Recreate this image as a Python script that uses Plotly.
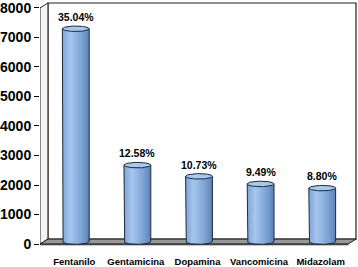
import numpy as np
import plotly.graph_objects as go

# ---- data ----
categories = ["Fentanilo", "Gentamicina", "Dopamina", "Vancomicina", "Midazolam"]
values = [7210, 2590, 2210, 1953, 1811]
pct_labels = ["35.04%", "12.58%", "10.73%", "9.49%", "8.80%"]
y_ticks = [0, 1000, 2000, 3000, 4000, 5000, 6000, 7000, 8000]

# ---- geometry (pixel scale helpers) ----
PXX = 62.0      # px per category unit
PXY = 0.03      # px per value unit
X_RANGE = [(38 - 70) / PXX, (357 - 70) / PXX]
Y_RANGE = [-2 / PXY, 246 / PXY]
DDX = 8 / PXX            # depth offset x (full)
DDY = 5 / PXY            # depth offset y (full)
X_BACK_RIGHT = (356 - 70) / PXX
X_FRONT_RIGHT = X_BACK_RIGHT - DDX
X0 = X_RANGE[0]
YMAX = 8000

A = 13.5 / PXX   # cylinder half width
B = 2.8 / PXY    # ellipse half height

fig = go.Figure()

# ---- frame ----
shapes = []
line_c = "#202020"
# back wall
shapes.append(dict(type="path", xref="x", yref="y", layer="below",
                   path=f"M{X0+DDX},{DDY} L{X0+DDX},{YMAX+DDY} L{X_BACK_RIGHT},{YMAX+DDY} L{X_BACK_RIGHT},{DDY} Z",
                   fillcolor="white", line=dict(color=line_c, width=1.2)))
# left wall
shapes.append(dict(type="path", xref="x", yref="y", layer="below",
                   path=f"M{X0},0 L{X0},{YMAX} L{X0+DDX},{YMAX+DDY} L{X0+DDX},{DDY} Z",
                   fillcolor="#f4f4f4", line=dict(color=line_c, width=1)))
# floor
shapes.append(dict(type="path", xref="x", yref="y", layer="below",
                   path=f"M{X0},0 L{X_FRONT_RIGHT},0 L{X_BACK_RIGHT},{DDY} L{X0+DDX},{DDY} Z",
                   fillcolor="#999999", line=dict(color=line_c, width=1)))
# floor slab front
shapes.append(dict(type="path", xref="x", yref="y", layer="below",
                   path=f"M{X0},0 L{X_FRONT_RIGHT},0 L{X_FRONT_RIGHT},{-1/PXY} L{X0},{-1/PXY} Z",
                   fillcolor="#606060", line=dict(color=line_c, width=0.5)))

# ---- cylinders ----
t_front = np.linspace(np.pi, 2 * np.pi, 40)
t_full = np.linspace(0, 2 * np.pi, 80)
for i, v in enumerate(values):
    cx = i + DDX / 2
    yb = DDY / 2
    yt = v + DDY / 2
    # body
    bx = [cx - A] + list(cx + A * np.cos(t_front)) + [cx + A, cx - A]
    by = [yt] + list(yb + B * np.sin(t_front)) + [yt, yt]
    fig.add_trace(go.Scatter(x=bx, y=by, mode="lines", fill="toself",
                             line=dict(color="#1e2a3a", width=1),
                             fillgradient=dict(type="horizontal",
                                               colorscale=[[0, "#7ea6d8"], [0.3, "#a6c6ee"], [0.75, "#7a9fd2"], [1, "#5b80b6"]]),
                             hoverinfo="skip", showlegend=False))
    # top ellipse
    fig.add_trace(go.Scatter(x=list(cx + A * np.cos(t_full)), y=list(yt + B * np.sin(t_full)),
                             mode="lines", fill="toself", fillcolor="#a9c8ee",
                             line=dict(color="#1e2a3a", width=1),
                             hoverinfo="skip", showlegend=False))
    fig.add_annotation(x=cx, y=yt + B, xref="x", yref="y", text=pct_labels[i],
                       showarrow=False, yanchor="bottom", yshift=1,
                       font=dict(family="Liberation Sans", size=10.5, color="black", weight="bold"))

fig.update_layout(
    width=358, height=267,
    margin=dict(l=38, r=1, t=0, b=19),
    paper_bgcolor="white", plot_bgcolor="white",
    shapes=shapes,
    showlegend=False,
    xaxis=dict(range=X_RANGE, showgrid=False, zeroline=False, showline=False,
               tickvals=[i + 0.04 for i in range(len(categories))], ticktext=categories,
               ticks="", ticklabelstandoff=8, ticklabeloverflow="allow",
               tickfont=dict(family="Liberation Sans", size=9.5, color="black", weight="bold")),
    yaxis=dict(range=Y_RANGE, showgrid=False, zeroline=False, showline=False,
               tickvals=y_ticks, ticktext=[str(t) for t in y_ticks],
               ticks="outside", ticklen=5, tickcolor="black", tickwidth=1,
               ticklabeloverflow="allow",
               tickfont=dict(family="Liberation Sans", size=14, color="black", weight="bold")),
)

fig.write_html("out.html", config={"displayModeBar": False},
               post_script="document.body.style.margin='0';document.body.style.overflow='hidden';")
